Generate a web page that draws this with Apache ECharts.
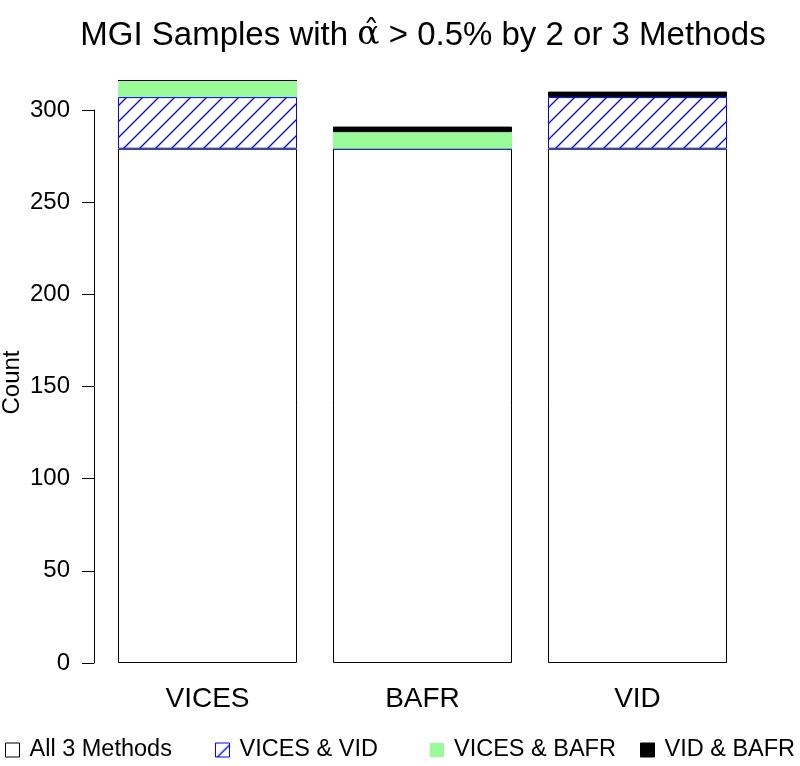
<!DOCTYPE html>
<html>
<head>
<meta charset="utf-8">
<script src="https://cdn.jsdelivr.net/npm/echarts@6/dist/echarts.min.js"></script>
<style>html,body{margin:0;padding:0;background:#fff}#chart{width:800px;height:766px}</style>
</head>
<body>
<div id="chart"></div>
<script>
const categories = ['VICES', 'BAFR', 'VID'];
const all3 = [279, 279, 279];
const vicesVid = [28, 0, 28];
const vicesBafr = [9, 9, 0];
const vidBafr = [0, 3, 3];
const yTicks = [0, 50, 100, 150, 200, 250, 300];

const FONT = 'Liberation Sans, Arial, Helvetica, sans-serif';

function hatch() {
  const s = 16;
  const c = document.createElement('canvas');
  c.width = s; c.height = s;
  const g = c.getContext('2d');
  g.fillStyle = '#fff'; g.fillRect(0, 0, s, s);
  g.strokeStyle = 'rgb(0,0,255)'; g.lineWidth = 1.3;
  g.beginPath();
  g.moveTo(-2, s + 2); g.lineTo(s + 2, -2);
  g.moveTo(-2, 2); g.lineTo(2, -2);
  g.moveTo(s - 2, s + 2); g.lineTo(s + 2, s - 2);
  g.stroke();
  return c;
}
const hatchColor = { image: hatch(), repeat: 'repeat' };

const chart = echarts.init(document.getElementById('chart'), null, { renderer: 'canvas' });

const names = ['All 3 Methods', 'VICES & VID', 'VICES & BAFR', 'VID & BAFR'];
const styles = [
  { color: '#ffffff', borderColor: '#000000', borderWidth: 1 },
  { color: hatchColor, borderColor: '#0000ff', borderWidth: 1 },
  { color: '#98fb98', borderColor: '#98fb98', borderWidth: 0 },
  { color: '#000000', borderColor: '#000000', borderWidth: 1 }
];
const values = [all3, vicesVid, vicesBafr, vidBafr];
const legendLeft = [5, 215, 430, 640];

chart.setOption({
  animation: false,
  textStyle: { fontFamily: FONT },
  title: {
    text: 'MGI Samples with {a|\u03B1\u0302} > 0.5% by 2 or 3 Methods',
    left: 418, textAlign: 'center', top: 14,
    textStyle: {
      fontFamily: FONT, fontSize: 33, fontWeight: 'normal', color: '#000',
      rich: { a: { fontFamily: 'DejaVu Serif', fontSize: 33, color: '#000' } }
    }
  },
  legend: names.map((n, i) => ({
    data: [{ name: n, itemStyle: Object.assign({}, styles[i], { borderWidth: i === 2 ? 0 : 1 }) }],
    left: legendLeft[i], top: 738, padding: 0,
    icon: 'rect', itemWidth: 14, itemHeight: 14,
    textStyle: { fontFamily: FONT, fontSize: 23.5, color: '#000', padding: [0, 0, 0, 5] },
    selectedMode: false
  })),
  grid: { left: 100, right: 55, top: 110, bottom: 103, outerBoundsMode: 'none', containLabel: false },
  xAxis: {
    type: 'category', data: categories,
    axisLine: { show: false }, axisTick: { show: false },
    axisLabel: { fontFamily: FONT, fontSize: 28, color: '#000', margin: 22 }
  },
  yAxis: {
    type: 'value', min: yTicks[0], max: yTicks[yTicks.length - 1], interval: 50,
    offset: 6,
    name: 'Count', nameLocation: 'middle', nameGap: 70, nameRotate: 90,
    nameMoveOverlap: false,
    nameTextStyle: { fontFamily: FONT, fontSize: 24, color: '#000', padding: [0, 0, 0, 8] },
    axisLine: { show: true, lineStyle: { color: '#000', width: 1 } },
    axisTick: { show: true, length: 12, lineStyle: { color: '#000' } },
    axisLabel: { fontFamily: FONT, fontSize: 24, color: '#000', margin: 24 },
    splitLine: { show: false }
  },
  series: names.map((n, i) => ({
    name: n, type: 'bar', stack: 'total', data: values[i],
    barWidth: 179, clip: false,
    itemStyle: styles[i]
  }))
});
</script>
</body>
</html>
